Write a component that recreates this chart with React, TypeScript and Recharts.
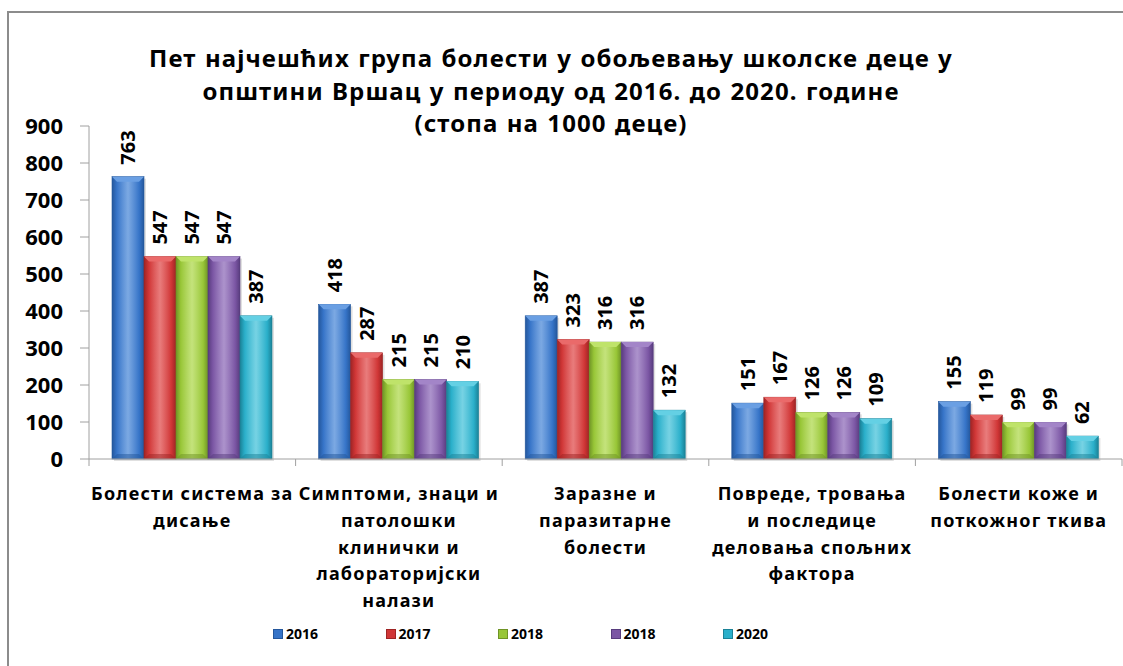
import React from 'react';
import { BarChart, Bar, XAxis, YAxis, LabelList, Legend } from 'recharts';

const categories = [
  'Болести система за|дисање',
  'Симптоми, знаци и|патолошки|клинички и|лабораторијски|налази',
  'Заразне и|паразитарне|болести',
  'Повреде, тровања|и последице|деловања спољних|фактора',
  'Болести коже и|поткожног ткива',
];
const v2016 = [763, 418, 387, 151, 155];
const v2017 = [547, 287, 323, 167, 119];
const v2018 = [547, 215, 316, 126, 99];
const v2018b = [547, 215, 316, 126, 99];
const v2020 = [387, 210, 132, 109, 62];
const yTicks = [0, 100, 200, 300, 400, 500, 600, 700, 800, 900];

const titleLines = [
  'Пет најчешћих група болести у обољевању школске деце у',
  'општини Вршац у периоду од 2016. до 2020. године',
  '(стопа на 1000 деце)',
];

const series = [
  { key: 's2016', name: '2016', color: '#3674c8', dark: '#24579c', light: '#6a9fe3' },
  { key: 's2017', name: '2017', color: '#d03636', dark: '#9e2424', light: '#ea6a6a' },
  { key: 's2018', name: '2018', color: '#98c637', dark: '#6f9426', light: '#bfe36a' },
  { key: 's2018b', name: '2018', color: '#7b56a4', dark: '#583c7e', light: '#a385c8' },
  { key: 's2020', name: '2020', color: '#2aafca', dark: '#1b8297', light: '#64d0e4' },
];

const data = categories.map((name, i) => ({
  name,
  s2016: v2016[i],
  s2017: v2017[i],
  s2018: v2018[i],
  s2018b: v2018b[i],
  s2020: v2020[i],
}));

const FONT = '"Noto Sans", sans-serif';
const W = 1123;
const H = 666;
const Y_AXIS_W = 89;
const RIGHT = 1;
const BAND = (W - Y_AXIS_W - RIGHT) / categories.length;

const BevelBar = (props: any) => {
  const { x, y, width, height, si } = props;
  if (!height || height <= 0) return null;
  const b = Math.min(5, width / 4, height / 2);
  const s = series[si];
  return (
    <g>
      <rect x={x + 2} y={y + 2} width={width} height={height} fill="#000" opacity={0.12} />
      <rect x={x} y={y} width={width} height={height} fill={`url(#grad${si})`} stroke={s.dark} strokeWidth={0.6} />
      <polygon points={`${x},${y} ${x + width},${y} ${x + width - b},${y + b} ${x + b},${y + b}`} fill={s.light} />
      <polygon points={`${x},${y + height} ${x + width},${y + height} ${x + width - b},${y + height - b} ${x + b},${y + height - b}`} fill={s.dark} opacity={0.5} />
    </g>
  );
};

const ValueLabel = (props: any) => {
  const { x, y, width, value } = props;
  const cx = x + width / 2 + 7;
  const cy = y - 12;
  return (
    <text x={cx} y={cy} transform={`rotate(-90 ${cx} ${cy})`} fontFamily={FONT} fontWeight={700} fontSize={20} fill="#000">
      {value}
    </text>
  );
};

const CategoryTick = (props: any) => {
  const { x, y, payload, index } = props;
  const lines = String(payload.value).split('|');
  return (
    <g>
      <line x1={x - BAND / 2} y1={y} x2={x - BAND / 2} y2={y + 7} stroke="#a0a0a0" />
      {index === categories.length - 1 && (
        <line x1={x + BAND / 2} y1={y} x2={x + BAND / 2} y2={y + 7} stroke="#a0a0a0" />
      )}
      <text textAnchor="middle" fontFamily={FONT} fontWeight={700} fontSize={18} letterSpacing={1.2} fill="#000">
        {lines.map((l, i) => (
          <tspan key={i} x={x} y={y + 41 + i * 26.8}>{l}</tspan>
        ))}
      </text>
    </g>
  );
};

const LegendContent = () => (
  <div style={{ display: 'flex', fontFamily: FONT, fontWeight: 700, fontSize: 14, color: '#000' }}>
    {series.map((s, i) => (
      <div key={i} style={{ position: 'absolute', left: 273 + i * 112.5, top: 0, display: 'flex', alignItems: 'center' }}>
        <span style={{ display: 'inline-block', width: 8, height: 8, background: s.color, border: `1px solid ${s.dark}`, marginRight: 3 }} />
        <span>{s.name}</span>
      </div>
    ))}
  </div>
);

export default function App() {
  return (
    <div style={{ position: 'absolute', left: 0, top: 0, width: W, height: H, background: '#fff', overflow: 'hidden' }}>
      <div style={{ position: 'absolute', left: 7, top: 11, width: W, height: H, borderLeft: '2px solid #8c8c8c', borderTop: '2px solid #8c8c8c' }} />
      <svg width={W} height={150} style={{ position: 'absolute', left: 0, top: 0 }}>
        {titleLines.map((t, i) => (
          <text key={i} x={551} y={67 + i * 32.5} textAnchor="middle" fontFamily={FONT} fontWeight={700} fontSize={24} letterSpacing={1.1} wordSpacing={1} fill="#000">
            {t}
          </text>
        ))}
      </svg>
      <div style={{ position: 'absolute', left: 0, top: 0 }}>
        <BarChart width={W} height={H} data={data} margin={{ top: 126, right: RIGHT, bottom: 7, left: 0 }} barCategoryGap={23} barGap={0}>
          <defs>
            {series.map((s, i) => (
              <linearGradient key={i} id={`grad${i}`} x1="0" y1="0" x2="1" y2="0">
                <stop offset="0%" stopColor={s.dark} />
                <stop offset="15%" stopColor={s.color} />
                <stop offset="50%" stopColor={s.light} stopOpacity={0.85} />
                <stop offset="85%" stopColor={s.color} />
                <stop offset="100%" stopColor={s.dark} />
              </linearGradient>
            ))}
          </defs>
          <XAxis dataKey="name" height={200} interval={0} tickLine={false} tickSize={0} tickMargin={0} axisLine={{ stroke: '#a0a0a0' }} tick={<CategoryTick />} />
          <YAxis width={Y_AXIS_W} domain={[0, 900]} ticks={yTicks} interval={0} tickSize={9} tickMargin={17} axisLine={{ stroke: '#a0a0a0' }} tickLine={{ stroke: '#a0a0a0' }} tick={{ fontFamily: FONT, fontWeight: 700, fontSize: 22, fill: '#000' }} />
          <Legend verticalAlign="middle" layout="horizontal" content={<LegendContent />} wrapperStyle={{ position: 'absolute', left: 0, top: 624, width: W, height: 20 }} />
          {series.map((s, i) => (
            <Bar key={s.key} dataKey={s.key} name={s.name} fill={s.color} isAnimationActive={false} shape={(p: any) => <BevelBar {...p} si={i} />}>
              <LabelList dataKey={s.key} content={<ValueLabel />} />
            </Bar>
          ))}
        </BarChart>
      </div>
    </div>
  );
}
